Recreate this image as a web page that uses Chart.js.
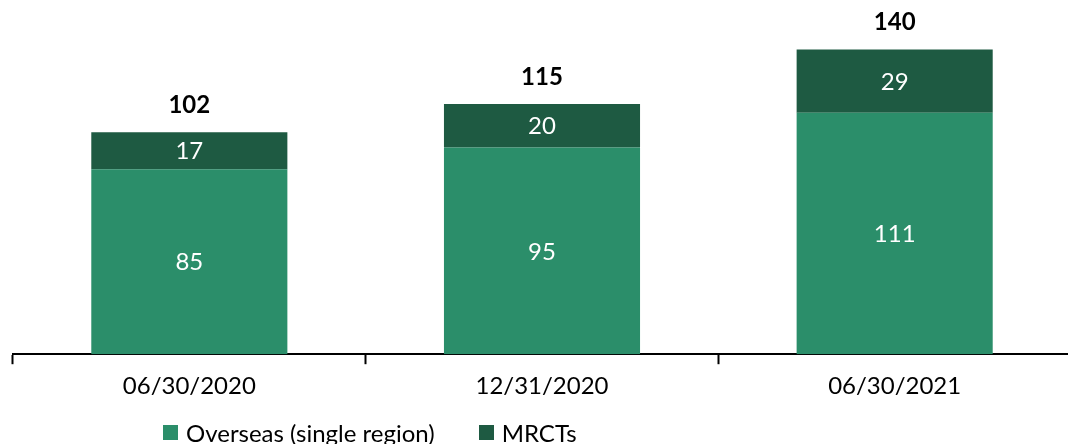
<!DOCTYPE html>
<html>
<head>
<meta charset="utf-8">
<script src="https://cdn.jsdelivr.net/npm/chart.js@4"></script>
<style>
  html, body { margin: 0; padding: 0; background: #fff; overflow: hidden; }
  #wrap { position: relative; width: 1071px; height: 444px; }
  #legend {
    position: absolute; left: 163px; top: 418px;
    display: flex; align-items: center;
    font-family: Lato, "Open Sans", sans-serif; font-size: 24px; color: #000;
  }
  #legend .item { display: flex; align-items: center; margin-right: 44px; }
  #legend .box { width: 15px; height: 15px; margin-right: 8px; }
</style>
</head>
<body>
<div id="wrap">
  <canvas id="chart" width="1071" height="444"></canvas>
  <div id="legend"></div>
</div>
<script>
const categories = ["06/30/2020", "12/31/2020", "06/30/2021"];
const overseas = [85, 95, 111];
const mrcts = [17, 20, 29];

const seriesNames = ["Overseas (single region)", "MRCTs"];
const seriesColors = ["#2b8e6a", "#1e5a42"];

const fontFamily = "Lato, 'Open Sans', sans-serif";

// Value labels inside each segment and a bold total above each stack
const barLabels = {
  id: "barLabels",
  afterDatasetsDraw(chart) {
    const ctx = chart.ctx;
    ctx.save();
    ctx.textAlign = "center";
    ctx.textBaseline = "middle";
    ctx.fillStyle = "#fff";
    ctx.font = "24px " + fontFamily;
    chart.data.datasets.forEach((ds, i) => {
      chart.getDatasetMeta(i).data.forEach((bar, j) => {
        const mid = (bar.y + bar.base) / 2 + 1;
        ctx.fillText(String(ds.data[j]), bar.x, mid);
      });
    });
    const last = chart.data.datasets.length - 1;
    ctx.fillStyle = "#000";
    ctx.font = "bold 24px " + fontFamily;
    chart.getDatasetMeta(last).data.forEach((bar, j) => {
      const total = chart.data.datasets.reduce((s, ds) => s + ds.data[j], 0);
      ctx.fillText(String(total), bar.x, bar.y - 27);
    });
    ctx.restore();
  }
};

const chart = new Chart(document.getElementById("chart"), {
  type: "bar",
  data: {
    labels: categories,
    datasets: [
      { label: seriesNames[0], data: overseas, backgroundColor: seriesColors[0] },
      { label: seriesNames[1], data: mrcts, backgroundColor: seriesColors[1] }
    ]
  },
  options: {
    responsive: false,
    animation: false,
    layout: { padding: { top: 6, left: 13, right: 0, bottom: 35 } },
    datasets: {
      bar: { barPercentage: 0.556, categoryPercentage: 1.0 }
    },
    scales: {
      x: {
        stacked: true,
        border: { display: true, color: "#000", width: 2 },
        grid: {
          offset: true,
          drawOnChartArea: false,
          drawTicks: true,
          tickLength: 10,
          tickColor: "#000",
          tickWidth: 2
        },
        ticks: {
          color: "#000",
          padding: 8,
          font: { family: fontFamily, size: 24 }
        }
      },
      y: {
        stacked: true,
        display: false,
        min: 0,
        max: 160
      }
    },
    plugins: {
      legend: { display: false },
      tooltip: { enabled: false }
    }
  },
  plugins: [barLabels]
});

// Legend built from the chart's datasets
const legendEl = document.getElementById("legend");
chart.data.datasets.forEach(ds => {
  const item = document.createElement("div");
  item.className = "item";
  const box = document.createElement("span");
  box.className = "box";
  box.style.background = ds.backgroundColor;
  const txt = document.createElement("span");
  txt.textContent = ds.label;
  item.appendChild(box);
  item.appendChild(txt);
  legendEl.appendChild(item);
});
</script>
</body>
</html>
